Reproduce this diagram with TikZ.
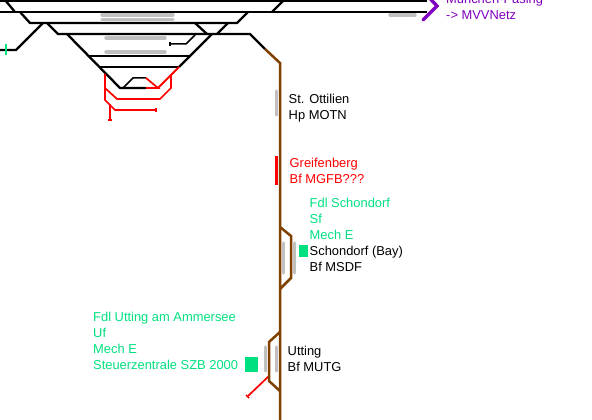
\documentclass[tikz,border=0pt]{standalone}
\usepackage{fontspec}
\setmainfont{Liberation Sans}
\definecolor{tgreen}{HTML}{00E080}
\definecolor{tbrown}{HTML}{804000}
\definecolor{tgrey}{HTML}{C0C0C0}
\definecolor{tpurple}{HTML}{8000C0}
\definecolor{tred}{HTML}{FF0000}
\tikzset{
  track/.style={line width=2.3pt,black,line cap=butt,line join=miter},
  main/.style={track,tbrown,line width=2.5pt},
  redtrack/.style={line width=1.7pt,tred,line join=miter},
  thin track/.style={line width=1.5pt,black},
  platform/.style={line width=3.4pt,tgrey,line cap=round},
  label/.style={anchor=west,inner sep=0pt,font=\fontsize{12.9}{15}\selectfont,text height=9.5pt,text depth=2.5pt},
  box/.style={fill=tgreen,draw=none}
}
\begin{document}
\begin{tikzpicture}[x=1pt,y=-1pt]
\useasboundingbox (0,0) rectangle (592,420);
\clip (0,0) rectangle (592,420);
% platforms
\draw[platform] (102,15)--(173,15) (102,19.5)--(173,19.5);
\draw[platform] (106,38)--(165,38) (106,52)--(165,52);
\draw[platform] (390,15)--(415,15);
\draw[platform] (276.5,91)--(276.5,115);
\draw[platform] (283.5,243)--(283.5,273) (294.5,243)--(294.5,273);
\draw[platform] (265.5,347)--(265.5,371) (276.5,347)--(276.5,371);
% black tracks
\draw[track] (0,1)--(427,1);
\draw[track] (0,12)--(427,12);
\draw[track] (5,0)--(15,12);
\draw[track] (272,12)--(283,1);
\draw[track] (20,12)--(30,23)--(237,23)--(248,12);
\draw[track] (47,23)--(58,34)--(250,34)--(265,49);
\draw[track] (0,50)--(16,50)--(43,23);
\draw[track] (195,23)--(207,34);
\draw[track] (217,34)--(228,23);
\draw[track] (67,34)--(120,88)--(146,88);
\draw[track] (212,34)--(179,67);
\draw[track] (88,56)--(190,56);
\draw[track] (99,67)--(179,67);
\draw[thin track] (123,88)--(133,78)--(146,78);
\draw[thin track] (170,44)--(186,44)--(195,35);
\draw[thin track] (170,42)--(170,46);
% green tick
\draw[tgreen,line width=1.2pt] (6,44)--(6,55);
% red tracks
\draw[redtrack,line width=2.1pt] (179,67)--(158,88);
\draw[redtrack] (146,78)--(158,88)--(146,88);
\draw[redtrack] (105,74)--(105,100)--(115,110)--(156,110);
\draw[redtrack] (105,88)--(117,99)--(160,99)--(171,88)--(171,75);
\draw[redtrack] (110,104)--(110,120);
\draw[redtrack] (156,108)--(156,112) (108,120)--(112,120);
\draw[redtrack] (269,376)--(248,396);
\draw[redtrack] (246,395)--(249,398);
\draw[tred,line width=3pt] (276.5,156)--(276.5,185);
% main line brown
\draw[main] (265,49)--(280,63)--(280,420);
\draw[main] (280,227)--(291,236)--(291,278)--(280,289);
\draw[main] (280,332)--(269,342)--(269,381)--(280,391);
% arrow
\draw[tpurple,line width=3.4pt,line cap=round] (424,-8)--(437,6)--(423,20);
% signal boxes
\fill[box] (299,245) rectangle (308,257);
\fill[box] (245,357) rectangle (258,372);
% labels
\node[label,tpurple] (pasing) at (446,0) {München-Pasing};
\node[label,tpurple] (mvv) at (446,16) {-> MVVNetz};
\node[label] (ott1) at (288.5,100) {St. Ottilien};
\node[label] (ott2) at (288.5,116) {Hp MOTN};
\node[label,tred] (gr1) at (289.5,164) {Greifenberg};
\node[label,tred] (gr2) at (289.5,180) {Bf MGFB???};
\node[label,tgreen] (sc1) at (309.5,204) {Fdl Schondorf};
\node[label,tgreen] (sc2) at (309.5,220) {Sf};
\node[label,tgreen] (sc3) at (309.5,236) {Mech E};
\node[label] (sc4) at (309.5,251.5) {Schondorf (Bay)};
\node[label] (sc5) at (309.5,267.5) {Bf MSDF};
\node[label,tgreen] (ut1) at (93,318) {Fdl Utting am Ammersee};
\node[label,tgreen] (ut2) at (93,334) {Uf};
\node[label,tgreen] (ut3) at (93,350) {Mech E};
\node[label,tgreen] (ut4) at (93,366) {Steuerzentrale SZB 2000};
\node[label] (ut5) at (287.5,352) {Utting};
\node[label] (ut6) at (287.5,368) {Bf MUTG};
\end{tikzpicture}
\end{document}
